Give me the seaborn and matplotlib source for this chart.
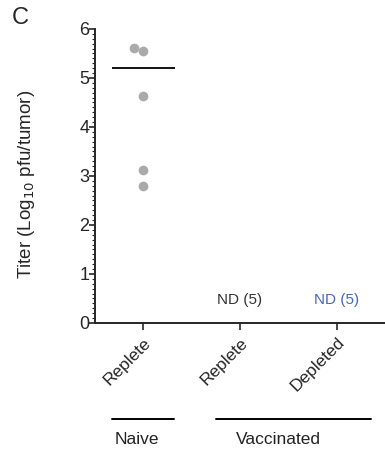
import numpy as np
import pandas as pd
import matplotlib
matplotlib.use("Agg")
import matplotlib.pyplot as plt
import seaborn as sns

# ---------- data ----------
categories = ["Replete", "Replete ", "Depleted"]
naive_titer = [5.62, 5.55, 4.63, 3.12, 2.80]
nd_labels = ["", "ND (5)", "ND (5)"]
nd_colors = ["#333333", "#333333", "#4a66b0"]
groups = ["Naive", "Vaccinated"]
group_span = [(-0.32, 0.32), (0.75, 2.35)]
group_text_x = [-0.07, 1.40]

df = pd.DataFrame({"cond": [categories[0]] * len(naive_titer), "titer": naive_titer})
mean_titer = np.log10(np.mean(10 ** np.array(naive_titer)))

# ---------- figure ----------
sns.set_style("ticks")
plt.rcParams["font.family"] = ["Liberation Sans", "DejaVu Sans"]

fig = plt.figure(figsize=(3.85, 4.53), dpi=100)
ax = fig.add_axes([0.247, 0.287, 0.753, 0.649])

sns.swarmplot(data=df, x="cond", y="titer", order=categories, color="#aaaaaa",
              size=7, ax=ax)
ax.hlines(mean_titer, -0.33, 0.33, color="black", lw=1.3)

for i, (lab, col) in enumerate(zip(nd_labels, nd_colors)):
    if lab:
        ax.text(i, 0.47, lab, ha="center", va="center", fontsize=11, color=col)

ax.set_xlim(-0.5, 2.5)
ax.set_ylim(0, 6)
ax.set_yticks(range(0, 7))
ax.set_yticks(np.arange(0, 6.01, 0.1), minor=True)
ax.tick_params(axis="y", which="major", labelsize=13, length=4, width=1.2, pad=0)
ax.tick_params(axis="y", which="minor", length=2, width=0.8)
ax.tick_params(axis="x", length=5, width=1.2)
ax.set_xticks(range(len(categories)))
ax.set_xticklabels([c.strip() for c in categories], rotation=45, ha="right",
                   rotation_mode="anchor", fontsize=12.5)
ax.set_xlabel("")
ax.set_ylabel("Titer (Log$_{10}$ pfu/tumor)", fontsize=13.5)
ax.yaxis.set_label_coords(-0.2, 0.47)
for s in ["top", "right"]:
    ax.spines[s].set_visible(False)
for s in ["left", "bottom"]:
    ax.spines[s].set_linewidth(1.4)

# group bars under the axis
trans = ax.get_xaxis_transform()
for g, (x0, x1), tx in zip(groups, group_span, group_text_x):
    ax.plot([x0, x1], [-0.327, -0.327], color="black", lw=1.4,
            transform=trans, clip_on=False)
    ax.text(tx, -0.398, g, ha="center", va="center", fontsize=12.5,
            color="#222222", transform=trans)

fig.text(0.03, 0.96, "C", fontsize=17, va="center")

fig.savefig("out.png", dpi=100)
